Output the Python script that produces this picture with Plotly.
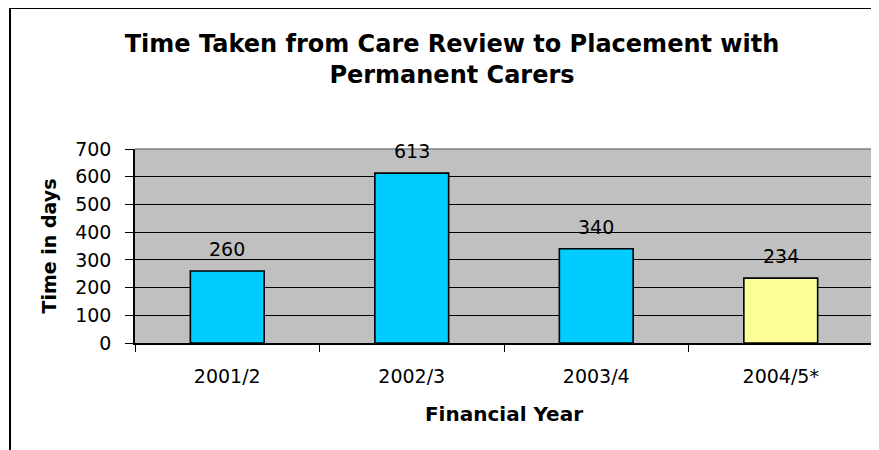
import plotly.graph_objects as go

categories = ["2001/2", "2002/3", "2003/4", "2004/5*"]
values = [260, 613, 340, 234]
bar_colors = ["#00CCFF", "#00CCFF", "#00CCFF", "#FFFF99"]
y_ticks = [0, 100, 200, 300, 400, 500, 600, 700]

# page offset (browser body margin)
OFF = 8
W, H = 879 - OFF, 450 - OFF
ML, MR, MT, MB = 135 - OFF, 6, 149 - OFF, 107
pw, ph = W - ML - MR, H - MT - MB

def px_x(px):
    return (px - OFF - ML) / pw

def px_y(py):
    return (H - MB - (py - OFF)) / ph

FONT = "DejaVu Sans"

fig = go.Figure()
fig.add_trace(go.Bar(
    x=categories, y=values,
    marker=dict(color=bar_colors, line=dict(color="black", width=1.6)),
    width=0.4,
    hoverinfo="x+y",
))

for c, v in zip(categories, values):
    fig.add_annotation(x=c, y=v, text=str(v), showarrow=False,
                       yanchor="middle", yshift=22,
                       font=dict(family=FONT, size=19, color="black"))

fig.update_layout(
    width=W, height=H,
    margin=dict(l=ML, r=MR, t=MT, b=MB),
    paper_bgcolor="white",
    plot_bgcolor="#C0C0C0",
    showlegend=False,
    title=dict(
        text="<b>Time Taken from Care Review to Placement with<br>Permanent Carers</b>",
        x=(452 - OFF) / W, xanchor="center", xref="container",
        y=1 - 44 / H, yanchor="top", yref="container",
        font=dict(family=FONT, size=24, color="black"),
    ),
    font=dict(family=FONT, color="black"),
)

fig.update_xaxes(
    type="category",
    tickson="boundaries",
    ticks="outside", ticklen=7, tickwidth=1, tickcolor="black",
    showline=True, linecolor="black", linewidth=1.5,
    showgrid=False,
    ticklabelstandoff=15,
    tickfont=dict(family=FONT, size=19, color="black"),
    title=dict(text="<b>Financial Year</b>", standoff=21,
               font=dict(family=FONT, size=20, color="black")),
)
fig.update_yaxes(
    range=[0, 700],
    tickvals=y_ticks,
    ticks="outside", ticklen=8, tickwidth=1, tickcolor="black",
    showline=True, linecolor="black", linewidth=1.5,
    showgrid=True, gridcolor="black", gridwidth=1,
    zeroline=False,
    ticklabelstandoff=10,
    tickfont=dict(family=FONT, size=19, color="black"),
    title=dict(text="<b>Time in days</b>", standoff=14,
               font=dict(family=FONT, size=19, color="black")),
)

# plot-area top and right border (gray)
fig.add_shape(type="line", xref="paper", yref="paper", x0=0, x1=1, y0=1, y1=1,
              line=dict(color="#808080", width=1.5))
fig.add_shape(type="line", xref="paper", yref="paper", x0=1, x1=1, y0=0, y1=1,
              line=dict(color="#808080", width=1.5))

# outer chart frame (left and top visible)
fig.add_shape(type="line", xref="paper", yref="paper",
              x0=px_x(10), x1=px_x(10), y0=px_y(8), y1=px_y(452),
              line=dict(color="black", width=2))
fig.add_shape(type="line", xref="paper", yref="paper",
              x0=px_x(10), x1=px_x(880), y0=px_y(8), y1=px_y(8),
              line=dict(color="black", width=2))

fig.write_html("out.html")
